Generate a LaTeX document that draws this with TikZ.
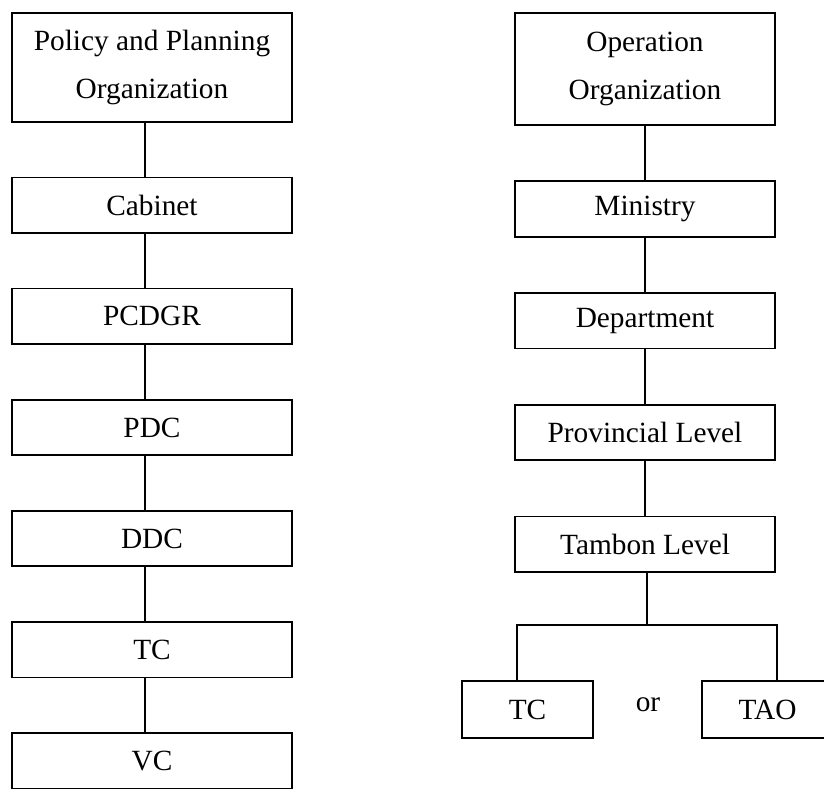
\documentclass[tikz,border=0pt]{standalone}
\usepackage{fontspec}
\setmainfont{Liberation Serif}
\usetikzlibrary{positioning}

\begin{document}
\begin{tikzpicture}[x=0.75pt,y=-0.75pt,node distance=42.2pt,
 org/.style={draw,line width=1.2pt,inner sep=0pt,outer sep=0pt,minimum height=41.6pt,align=center,font=\fontsize{22}{36}\selectfont},
 colL/.style={org,minimum width=210pt},
 colR/.style={org,minimum width=195pt},
 leaf/.style={org,minimum width=98.25pt,minimum height=42.75pt},
 link/.style={line width=1.3pt}]
\useasboundingbox (0,0) rectangle (824,791);
% policy and planning side
\node[colL,minimum height=81.75pt] (pp) at (152,67.5) {Policy and Planning\\Organization};
\node[colL,below=41.7pt of pp] (cab) {Cabinet};
\node[colL,below=41.7pt of cab] (pcd) {PCDGR};
\node[colL,below=41.7pt of pcd] (pdc) {PDC};
\node[colL,below=41.7pt of pdc] (ddc) {DDC};
\node[colL,below=41.7pt of ddc] (tcl) {TC};
\node[colL,below=41.7pt of tcl] (vc) {VC};
\foreach \a/\b in {pp/cab,cab/pcd,pcd/pdc,pdc/ddc,ddc/tcl,tcl/vc}
 \draw[link] ([xshift=-5pt]\a.south) -- ([xshift=-5pt]\b.north);
% operation side
\node[colR,minimum height=84pt] (op) at (645,69) {Operation\\Organization};
\node[colR,below=of op] (min) {Ministry};
\node[colR,below=of min] (dep) {Department};
\node[colR,below=of dep] (prov) {Provincial Level};
\node[colR,below=of prov] (tamb) {Tambon Level};
\node[leaf] (tcr) at (527.5,709.5) {TC};
\node[leaf] (tao) at (767.5,709.5) {TAO};
\node[font=\fontsize{22}{36}\selectfont] (or) at (648,705) {or};
\foreach \a/\b in {op/min,min/dep,dep/prov,prov/tamb}
 \draw[link] (\a) -- (\b);
\coordinate (bar) at (647,625);
\draw[link] (tamb.south -| bar) -- (bar);
\draw[link] (bar) -| ([xshift=-8pt]tcr.north);
\draw[link] (bar) -| ([xshift=7pt]tao.north);
\end{tikzpicture}
\end{document}
